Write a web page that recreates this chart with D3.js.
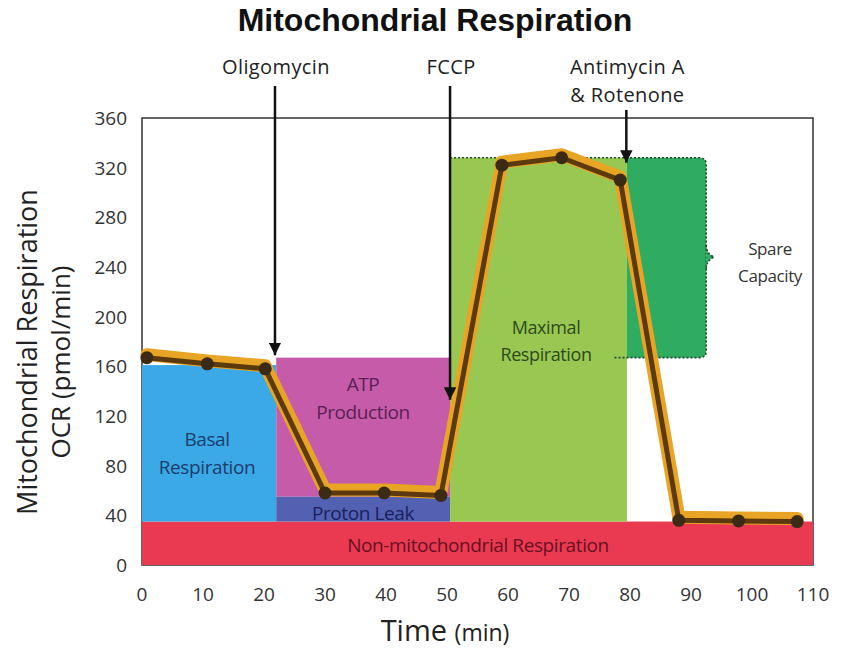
<!DOCTYPE html>
<html>
<head>
<meta charset="utf-8">
<script src="https://cdn.jsdelivr.net/npm/d3@7"></script>
<style>
  body { margin: 0; background: #fff; }
  text { font-family: "Open Sans", "Noto Sans", sans-serif; }
</style>
</head>
<body>
<svg id="chart" width="842" height="648"></svg>
<script>
"use strict";

// data
var timeMin = [0.8, 10.7, 20.2, 30, 39.7, 49, 59, 68.8, 78.4, 88, 97.8, 107.4];
var ocr     = [167, 162, 158, 58, 58, 56, 322, 328, 310, 36, 35.5, 35];

var regionNames = ["Non-mitochondrial Respiration", "Basal Respiration", "ATP Production",
                   "Proton Leak", "Maximal Respiration", "Spare Capacity"];
var regionX0 = [0, 0, 22, 22, 50.5, 79.5];
var regionX1 = [110, 22, 50.5, 50.5, 79.5, 92.5];
var regionY0 = [0, 35, 55, 35, 35, 167];
var regionY1 = [35, 161, 167, 55, 328, 328];

var injectNames = ["Oligomycin", "FCCP", "Antimycin A|& Rotenone"];
var injectTime  = [21.8, 50.5, 79.4];
var injectTip   = [169, 133, 324];

var xTicks = [0, 10, 20, 30, 40, 50, 60, 70, 80, 90, 100, 110];
var yTicks = [0, 40, 80, 120, 160, 200, 240, 280, 320, 360];

// styles
var regionColor = ["#e93a52", "#3aa9e6", "#c65ba9", "#5261b2", "#99c852", "#2fab62"];
var labelColor  = ["#6a1020", "#1d3c6e", "#5a1f55", "#1a2060", "#2d4a1c", "#333333"];

var svg = d3.select("#chart");

var x = d3.scaleLinear().domain([0, 110]).range([142, 813]);
var y = d3.scaleLinear().domain([0, 360]).range([565, 118]);

// title
svg.append("text")
  .attr("x", 435).attr("y", 31)
  .attr("text-anchor", "middle")
  .style("font-family", "'Liberation Sans', Arial, sans-serif")
  .style("font-weight", "bold")
  .style("font-size", "32px")
  .attr("fill", "#111")
  .text("Mitochondrial Respiration");

// frame
svg.append("rect")
  .attr("x", x(0)).attr("y", y(360))
  .attr("width", x(110) - x(0))
  .attr("height", y(0) - y(360))
  .attr("fill", "none")
  .attr("stroke", "#333")
  .attr("stroke-width", 1.5);

// colored regions (spare capacity drawn separately)
var idx = d3.range(regionNames.length);

svg.selectAll(".region")
  .data(idx.filter(function(i) { return i < 5; }))
  .enter().append("rect")
  .attr("class", "region")
  .attr("x", function(i) { return x(regionX0[i]); })
  .attr("y", function(i) { return y(regionY1[i]); })
  .attr("width", function(i) { return x(regionX1[i]) - x(regionX0[i]); })
  .attr("height", function(i) { return y(regionY0[i]) - y(regionY1[i]); })
  .attr("fill", function(i) { return regionColor[i]; });

// spare capacity with rounded right side and dotted outline
var s = 5;
var sx0 = x(regionX0[s]), sx1 = x(regionX1[s]);
var sy0 = y(regionY1[s]), sy1 = y(regionY0[s]);
var r = 7;
svg.append("path")
  .attr("d", "M" + sx0 + "," + sy0 +
    " L" + (sx1 - r) + "," + sy0 +
    " Q" + sx1 + "," + sy0 + " " + sx1 + "," + (sy0 + r) +
    " L" + sx1 + "," + (sy1 - r) +
    " Q" + sx1 + "," + sy1 + " " + (sx1 - r) + "," + sy1 +
    " L" + sx0 + "," + sy1 + " Z")
  .attr("fill", regionColor[s]);

svg.append("path")
  .attr("d", "M" + x(regionX0[4]) + "," + sy0 + " L" + (sx1 - r) + "," + sy0 +
    " Q" + sx1 + "," + sy0 + " " + sx1 + "," + (sy0 + r) +
    " L" + sx1 + "," + (sy1 - r) +
    " Q" + sx1 + "," + sy1 + " " + (sx1 - r) + "," + sy1 +
    " L" + (sx0 - 14) + "," + sy1)
  .attr("fill", "none")
  .attr("stroke", "#1d4a30")
  .attr("stroke-width", 1.6)
  .attr("stroke-dasharray", "2,2");

// brace
var bm = y(248);
svg.append("path")
  .attr("d", "M" + sx1 + "," + (bm - 12) + " Q" + sx1 + "," + (bm - 3) + " " + (sx1 + 8) + "," + bm +
    " Q" + sx1 + "," + (bm + 3) + " " + sx1 + "," + (bm + 12))
  .attr("fill", regionColor[s])
  .attr("stroke", "#1d4a30")
  .attr("stroke-width", 1.6)
  .attr("stroke-dasharray", "2,2");

// region labels
var labelPos = [
  { cx: 478, size: 19, lines: [552] },
  { cx: 207, size: 19, lines: [446, 474] },
  { cx: 363, size: 19, lines: [391, 419] },
  { cx: 363, size: 19, lines: [520] },
  { cx: 546, size: 18, lines: [334, 361] },
  { cx: 770, size: 17, lines: [255, 282] }
];
var labelLines = [
  ["Non-mitochondrial Respiration"],
  ["Basal", "Respiration"],
  ["ATP", "Production"],
  ["Proton Leak"],
  ["Maximal", "Respiration"],
  ["Spare", "Capacity"]
];
idx.forEach(function(i) {
  labelLines[i].forEach(function(t, k) {
    svg.append("text")
      .attr("x", labelPos[i].cx)
      .attr("y", labelPos[i].lines[k])
      .attr("text-anchor", "middle")
      .style("font-size", labelPos[i].size + "px")
      .style("letter-spacing", "-0.4px")
      .attr("fill", labelColor[i])
      .text(t);
  });
});

// OCR line: orange band, brown line, dark markers
var pts = d3.range(timeMin.length).map(function(i) { return [x(timeMin[i]), y(ocr[i])]; });
var line = d3.line();

svg.append("path")
  .attr("d", line(pts.map(function(p) { return [p[0], p[1] - 3]; })))
  .attr("fill", "none")
  .attr("stroke", "#e8a424")
  .attr("stroke-width", 13)
  .attr("stroke-linejoin", "round")
  .attr("stroke-linecap", "round");

svg.append("path")
  .attr("d", line(pts))
  .attr("fill", "none")
  .attr("stroke", "#5c3a0e")
  .attr("stroke-width", 5)
  .attr("stroke-linejoin", "round");

svg.selectAll(".pt")
  .data(pts)
  .enter().append("circle")
  .attr("class", "pt")
  .attr("cx", function(d) { return d[0]; })
  .attr("cy", function(d) { return d[1]; })
  .attr("r", 6.5)
  .attr("fill", "#3b2a14");

// injection arrows
svg.append("defs").append("marker")
  .attr("id", "head")
  .attr("viewBox", "0 0 10 10")
  .attr("refX", 10).attr("refY", 5)
  .attr("markerWidth", 5).attr("markerHeight", 5)
  .attr("markerUnits", "strokeWidth")
  .attr("orient", "auto")
  .append("path")
  .attr("d", "M0,0 L10,5 L0,10 Z")
  .attr("fill", "#111");

var arrowTop = [86, 86, 110];
injectNames.forEach(function(name, i) {
  var ax = x(injectTime[i]);
  svg.append("line")
    .attr("x1", ax).attr("x2", ax)
    .attr("y1", arrowTop[i]).attr("y2", y(injectTip[i]))
    .attr("stroke", "#111")
    .attr("stroke-width", 2.5)
    .attr("marker-end", "url(#head)");
  name.split("|").forEach(function(part, k) {
    svg.append("text")
      .attr("x", ax + 1)
      .attr("y", 74 + k * 27.5)
      .attr("text-anchor", "middle")
      .style("font-size", "20px")
      .style("letter-spacing", "0.4px")
      .attr("fill", "#222")
      .text(part);
  });
});

// axes tick labels
svg.selectAll(".xt")
  .data(xTicks)
  .enter().append("text")
  .attr("class", "xt")
  .attr("x", function(d) { return x(d); })
  .attr("y", 601)
  .attr("text-anchor", "middle")
  .style("font-size", "19px")
  .attr("fill", "#333")
  .text(function(d) { return d; });

svg.selectAll(".yt")
  .data(yTicks)
  .enter().append("text")
  .attr("class", "yt")
  .attr("x", 127)
  .attr("y", function(d) { return y(d) + 7; })
  .attr("text-anchor", "end")
  .style("font-size", "19px")
  .attr("fill", "#333")
  .text(function(d) { return d; });

// axis titles
var xt = svg.append("text")
  .attr("x", 445).attr("y", 641)
  .attr("text-anchor", "middle")
  .attr("fill", "#222");
xt.append("tspan").style("font-size", "29px").text("Time ");
xt.append("tspan").style("font-size", "23px").text("(min)");

svg.append("text")
  .attr("transform", "translate(37,352) rotate(-90)")
  .attr("text-anchor", "middle")
  .style("font-size", "27px")
  .attr("fill", "#222")
  .text("Mitochondrial Respiration");

svg.append("text")
  .attr("transform", "translate(70,362) rotate(-90)")
  .attr("text-anchor", "middle")
  .style("font-size", "26px")
  .attr("fill", "#222")
  .text("OCR (pmol/min)");
</script>
</body>
</html>
